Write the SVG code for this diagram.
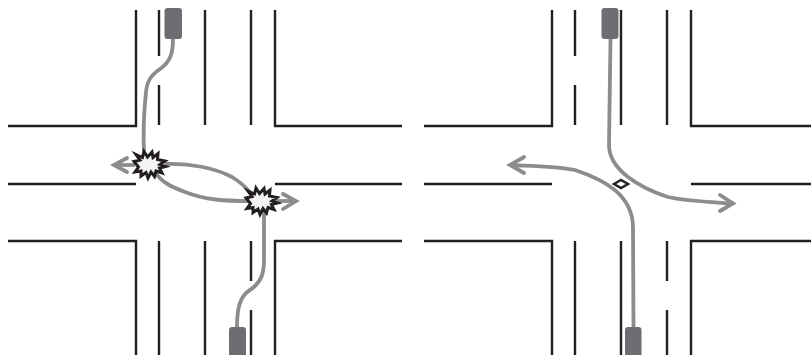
<svg xmlns="http://www.w3.org/2000/svg" width="811" height="355" viewBox="0 0 811 355">
<style>
.r{fill:none;stroke:#231f20;stroke-width:2.4}
.p{fill:none;stroke:#8a8c8e;stroke-width:3.8;stroke-linejoin:round;stroke-linecap:butt}
.h{fill:none;stroke:#8a8c8e;stroke-width:3.8;stroke-linecap:round;stroke-linejoin:miter}
.v{fill:#6d6e71}
.b{fill:#f4f4f4;stroke:#231f20;stroke-width:3;stroke-linejoin:miter}
</style>
<defs>
<g id="road">
<path class="r" d="M136 10V126H8M275 10V126H402M8 184H136M275 184H402M8 241H136V355M275 355V241H402"/>
<path class="r" d="M205 10V125M205 241V355"/>
</g>
<path id="burst" class="b" d="M-15 -3L-9 -4.500L-13 -10L-6.500 -7L-5 -13L-1.500 -7.500L3 -12.500L4 -7L9 -11L8.500 -5L16 -3.500L11 0L16.500 2L10.500 3.500L13 8.500L7 6.500L5.500 12L2 7.500L-1 13.500L-3 8L-8 11.500L-8 6.500L-14 7.500L-10.500 2.500Z"/>
</defs>
<g id="left-intersection">
<use href="#road"/>
<path class="r" d="M159 10V56M159 85V125M159 241V355M251 10V125M251 241V281M251 310V355"/>
</g>
<g id="right-intersection">
<use href="#road" x="416"/>
<path class="r" d="M575 10V56M575 85V125M575 241V355M667 10V125M667 241V281M667 310V355"/>
</g>
<g id="connectors">
<path class="p" d="M173 39C173 54 170 62 160 69C150 76 147 82 146 92C144 110 143 130 144 156"/>
<path class="p" d="M165 164C190 163 215 168 232 177C240 182 247 188 251 194"/>
<path class="p" d="M155 172C162 183 172 187 185 192C205 200 225 201 250 201"/>
<path class="p" d="M264 208V260C264 272 262 282 250 290C240 296 237 308 237 327"/>
<path class="p" d="M135 165H115"/><path class="h" d="M127 158L114 165L127 172"/>
<path class="p" d="M275 201H295"/><path class="h" d="M283 194L296 201L283 209"/>
<path class="p" d="M610.500 39L609 145C609 170 640 188 668 197C685 201 710 202 732 203.500"/>
<path class="h" d="M720 195L733 203.500L720 211"/>
<path class="p" d="M633.500 327L633 228C633 195 605 180 575 170C555 166 530 166 510 165"/>
<path class="h" d="M524 157L510 165L524 173"/>
</g>
<g id="vehicle-1"><rect class="v" x="164.500" y="8" width="17.500" height="31" rx="3"/></g>
<g id="vehicle-2"><rect class="v" x="229" y="327" width="17" height="30" rx="3"/></g>
<g id="vehicle-3"><rect class="v" x="601.500" y="8" width="17" height="31" rx="3"/></g>
<g id="vehicle-4"><rect class="v" x="625" y="327" width="16.500" height="30" rx="3"/></g>
<g id="crash-1"><use href="#burst" x="149" y="164.500"/></g>
<g id="crash-2"><use href="#burst" x="261" y="201"/></g>
<g id="conflict-point"><path d="M614 184L621 180L628 184L621 188Z" fill="#fff" stroke="#231f20" stroke-width="2.400"/></g>
</svg>
